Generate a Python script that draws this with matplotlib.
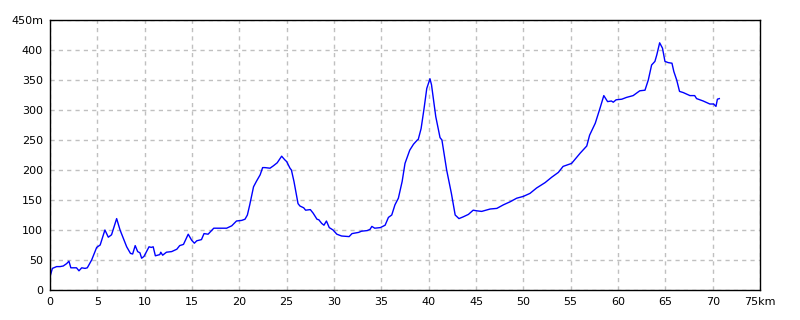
import matplotlib
matplotlib.use("Agg")
import matplotlib.pyplot as plt

# elevation profile: distance (km) vs altitude (m)
dist = [0, 0.25, 0.7, 1.06, 1.4, 1.76, 2.0, 2.2, 2.8, 3.06, 3.35, 3.7, 3.94, 4.4,
        4.93, 5.3, 5.8, 6.16, 6.5, 7.04, 7.4, 7.75, 8.1, 8.5, 8.73, 9.0, 9.26, 9.5,
        9.68, 9.93, 10.46, 10.7, 10.9, 11.13, 11.6, 11.7, 11.9, 12.3, 12.85, 13.4,
        13.7, 14.1, 14.6, 14.96, 15.25, 15.5, 16.0, 16.27, 16.7, 17.3, 18.66, 19.2,
        19.7, 20.25, 20.6, 20.85, 21.1, 21.5, 21.8, 22.2, 22.46, 22.7, 23.24,
        23.6, 24.0, 24.47, 24.8, 25.0, 25.35, 25.5, 25.77, 26.2, 26.4, 26.8, 27.0,
        27.5, 27.8, 28.2, 28.4, 28.7, 28.94, 29.2, 29.5, 29.9, 30.3, 30.8, 31.6,
        31.9, 32.6, 32.9, 33.5, 33.8, 34.0, 34.3, 34.9, 35.4, 35.75, 36.1, 36.44,
        36.8, 37.2, 37.5, 38.0, 38.4, 38.8, 38.9, 39.2, 39.5, 39.8, 40.14, 40.3,
        40.75, 41.2, 41.4, 41.9, 42.4, 42.8, 43.2, 43.66, 44.2, 44.7, 45.07, 45.6,
        46.5, 47.2, 47.9, 48.6, 49.3, 50.0, 50.7, 51.4, 52.3, 53.0, 53.7, 54.2,
        55.1, 56.0, 56.7, 57.0, 57.6, 58.1, 58.5, 58.9, 59.3, 59.5, 59.8, 60.4,
        60.9, 61.6, 62.3, 62.85, 63.2, 63.55, 63.9, 64.1, 64.4, 64.7, 64.96, 65.3,
        65.7, 65.9, 66.2, 66.5, 66.9, 67.6, 68.1, 68.3, 69.0, 69.7, 70.1, 70.35,
        70.5, 70.7]
alt = [22, 36, 39, 39, 40, 44, 48, 37, 37, 32, 37, 36, 37, 50,
       71, 75, 100, 88, 92, 119, 100, 86, 72, 61, 60, 74, 64, 62,
       53, 56, 72, 71, 72, 57, 59, 63, 58, 63, 64, 68,
       74, 76, 93, 83, 78, 82, 84, 94, 93, 103, 103, 107,
       115, 116, 118, 125, 142, 172, 181, 192, 204, 204, 203,
       207, 212, 223, 217, 214, 203, 200, 181, 144, 140, 137, 133,
       134, 128, 118, 117, 111, 108, 115, 104, 100, 93, 90, 89,
       94, 96, 98, 99, 101, 106, 103, 104, 108, 121, 125, 142,
       153, 181, 211, 233, 243, 250, 251, 269, 301, 336, 352, 342,
       289, 254, 250, 200, 161, 125, 119, 122, 126, 133, 132, 131,
       135, 136, 142, 147, 153, 156, 161, 170, 179, 188, 196, 206,
       211, 228, 240, 258, 278, 303, 324, 314, 315, 313, 317, 318,
       321, 324, 332, 333, 350, 375, 381, 392, 412, 403, 381, 379,
       378, 364, 350, 331, 329, 324, 324, 319, 315, 310, 310, 306,
       318, 319]

xticks = list(range(0, 80, 5))
xlabels = [str(v) for v in xticks[:-1]] + ["75km"]
yticks = list(range(0, 500, 50))
ylabels = [str(v) for v in yticks[:-1]] + ["450m"]

fig = plt.figure(figsize=(8, 3.2), dpi=100)
ax = fig.add_axes([0.0625, 0.09375, 0.8875, 0.84375])

ax.plot(dist, alt, color="#0000ff", linewidth=1)

ax.set_xlim(0, 75)
ax.set_ylim(0, 450)
ax.set_xticks(xticks)
ax.set_xticklabels(xlabels)
ax.set_yticks(yticks)
ax.set_yticklabels(ylabels)
ax.tick_params(length=0, pad=5, labelsize=8)
ax.grid(True, color="#c0c0c0", linestyle=(0, (3, 3)), linewidth=1)
for s in ax.spines.values():
    s.set_linewidth(1)

fig.savefig("out.png", dpi=100)
